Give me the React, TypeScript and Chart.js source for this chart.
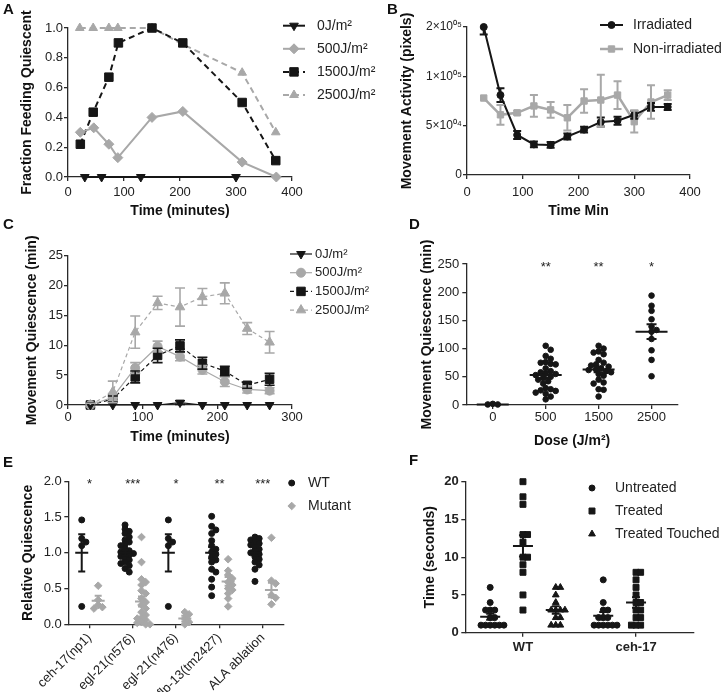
import React, { useEffect, useRef } from 'react';
import { Chart, registerables, LinearScale } from 'chart.js';
import { drawPoint } from 'chart.js/helpers';

Chart.register(...registerables);

const FONT = '"Liberation Sans", Arial, Helvetica, sans-serif';
const INK = '#161616';
const GRAY = '#a8a8a8';
const AXIS = '#2a2a2a';
const TXT = '#222222';

// ---------------- Panel A ----------------
const A_LABELS = ['0J/m²', '500J/m²', '1500J/m²', '2500J/m²'];
const A_T0 = [30, 60, 130, 300];
const A_Y0 = [0, 0, 0, 0];
const A_T500 = [22, 46, 73, 89, 150, 205, 311, 372];
const A_Y500 = [0.30, 0.33, 0.22, 0.13, 0.40, 0.44, 0.10, 0.0];
const A_T1500 = [22, 45, 73, 90, 150, 205, 311, 371];
const A_Y1500 = [0.22, 0.435, 0.67, 0.90, 1.0, 0.90, 0.50, 0.11];
const A_T2500 = [21, 45, 73, 89, 150, 205, 311, 371];
const A_Y2500 = [1.0, 1.0, 1.0, 1.0, 1.0, 0.89, 0.70, 0.30];

// ---------------- Panel B ----------------
const B_LABELS = ['Irradiated', 'Non-irradiated'];
const B_TIME = [30, 60, 90, 120, 150, 180, 210, 240, 270, 300, 330, 360];
const B_IRR = [200000, 81000, 40600, 31000, 30500, 39000, 46000, 53700, 55000, 61000, 69000, 69000];
const B_IRR_ERR = [15000, 7000, 4000, 3000, 3000, 3000, 3000, 4500, 4000, 4000, 4000, 3000];
const B_NON = [78000, 61000, 63000, 70000, 66000, 58000, 75000, 76000, 81000, 54000, 74000, 81000];
const B_NON_ERR = [0, 10000, 2000, 11000, 8000, 13000, 12000, 27000, 14000, 11000, 17000, 5000];
const B_TICKS = [0, 50000, 100000, 200000];

// ---------------- Panel C ----------------
const C_LABELS = ['0J/m²', '500J/m²', '1500J/m²', '2500J/m²'];
const C_TIME = [30, 60, 90, 120, 150, 180, 210, 240, 270];
const C_0 = [0, 0, 0, 0, 0.4, 0, 0, 0, 0];
const C_0_ERR = [0, 0, 0, 0, 0.3, 0, 0, 0, 0];
const C_500 = [0, 1.3, 6.2, 9.8, 8.1, 5.9, 3.9, 2.6, 2.4];
const C_500_ERR = [0, 0.6, 0.9, 0.9, 0.7, 0.7, 0.8, 0.6, 0.5];
const C_1500 = [0, 1.0, 4.7, 8.3, 9.9, 7.0, 5.7, 3.3, 4.3];
const C_1500_ERR = [0, 0.5, 1.0, 1.2, 1.0, 1.0, 0.8, 0.5, 1.0];
const C_2500 = [0, 2.2, 12.2, 17.1, 16.4, 18.1, 18.7, 12.8, 10.5];
const C_2500_ERR = [0.3, 1.8, 2.7, 1.1, 3.2, 1.4, 1.75, 1.0, 1.8];

// ---------------- Panel D ----------------
const D_DOSES = ['0', '500', '1500', '2500'];
const D_VALUES = [
  [2, 1, 1],
  [105, 98, 87, 82, 76, 75, 73, 72, 65, 60, 58, 56, 55, 53, 50, 48, 45, 42, 38, 30, 28, 26, 25, 22, 20, 15, 10],
  [105, 100, 95, 93, 90, 80, 75, 72, 70, 68, 65, 63, 62, 60, 58, 55, 52, 45, 40, 38, 28, 27, 15],
  [194, 176, 167, 152, 139, 133, 130, 117, 97, 80, 51],
];
const D_MEAN = [1, 53, 63, 130];
const D_SEM = [0.5, 5, 5, 13];
const D_STARS = ['', '**', '**', '*'];

// ---------------- Panel E ----------------
const E_GROUPS = ['ceh-17(np1)', 'egl-21(n576)', 'egl-21(n476)', 'flp-13(tm2427)', 'ALA ablation'];
const E_SERIES = ['WT', 'Mutant'];
const E_WT = [
  [1.46, 1.2, 1.15, 1.1, 0.25],
  [1.39, 1.33, 1.3, 1.27, 1.22, 1.18, 1.15, 1.12, 1.1, 1.06, 1.03, 1.01, 1.0, 0.99, 0.97, 0.95, 0.93, 0.9, 0.87, 0.85, 0.82, 0.78, 0.73],
  [1.46, 1.2, 1.15, 1.1, 0.25],
  [1.51, 1.37, 1.32, 1.27, 1.17, 1.1, 1.05, 1.01, 0.98, 0.94, 0.9, 0.87, 0.77, 0.73, 0.63, 0.52, 0.4],
  [1.22, 1.2, 1.18, 1.15, 1.13, 1.11, 1.08, 1.05, 1.02, 1.0, 0.98, 0.94, 0.91, 0.87, 0.83, 0.77, 0.6],
];
const E_MUT = [
  [0.54, 0.34, 0.27, 0.24, 0.22],
  [1.22, 0.87, 0.63, 0.59, 0.55, 0.47, 0.43, 0.36, 0.31, 0.27, 0.22, 0.17, 0.13, 0.09, 0.08, 0.06, 0.03, 0.02, 0, 0],
  [0.17, 0.14, 0.08, 0.03, 0],
  [0.91, 0.75, 0.69, 0.64, 0.59, 0.55, 0.5, 0.48, 0.43, 0.36, 0.25],
  [1.21, 0.61, 0.57, 0.41, 0.37, 0.28],
];
const E_WT_MEAN = [1, 1, 1, 1, 1];
const E_WT_SEM = [0.26, 0.04, 0.26, 0.08, 0.04];
const E_MUT_MEAN = [0.33, 0.32, 0.08, 0.6, 0.48];
const E_MUT_SEM = [0.07, 0.07, 0.04, 0.06, 0.1];
const E_STARS = ['*', '***', '*', '**', '***'];

// ---------------- Panel F ----------------
const F_GROUPS = ['WT', 'ceh-17'];
const F_SERIES = ['Untreated', 'Treated', 'Treated Touched'];
const F_UNTREATED = [
  [6, 4, 3, 3, 3, 2, 2, 1, 1, 1, 1, 1, 1],
  [7, 4, 3, 3, 2, 2, 2, 1, 1, 1, 1, 1, 1],
];
const F_TREATED = [
  [20, 18, 17, 13, 13, 12, 10, 10, 9, 8, 5, 3],
  [8, 8, 7, 6, 5, 4, 4, 3, 3, 2, 2, 1, 1, 1],
];
const F_TOUCHED = [
  [6, 6, 5, 4, 3, 3, 3, 3, 2, 2, 1, 1, 1],
  [],
];
const F_MEAN = [[2.1, 2.25], [11.5, 4.0], [3.0, 0]];
const F_SEM = [[0.4, 0.5], [1.4, 0.7], [0.5, 0]];

// ---------------- helpers ----------------
class SegmentedScale extends LinearScale {
  static id = 'segmented';
  static defaults = LinearScale.defaults;
  buildTicks() {
    return B_TICKS.map((v) => ({ value: v }));
  }
  segPos(v: number) {
    const b = B_TICKS;
    const n = b.length - 1;
    let i = 0;
    while (i < n - 1 && v > b[i + 1]) i++;
    return (i + (v - b[i]) / (b[i + 1] - b[i])) / n;
  }
  getPixelForValue(v: number) {
    return this.getPixelForDecimal(this.segPos(v));
  }
  getValueForPixel(p: number) {
    const n = B_TICKS.length - 1;
    const d = this.getDecimalForPixel(p) * n;
    const i = Math.max(0, Math.min(Math.floor(d), n - 1));
    return B_TICKS[i] + (d - i) * (B_TICKS[i + 1] - B_TICKS[i]);
  }
}
Chart.register(SegmentedScale);

const SUP: Record<string, string> = { '0': '⁰', '1': '¹', '2': '²', '3': '³', '4': '⁴', '5': '⁵', '6': '⁶', '7': '⁷', '8': '⁸', '9': '⁹' };
function sci(v: number) {
  if (v === 0) return '0';
  const e = Math.floor(Math.log10(v) + 1e-9);
  const m = Math.round((v / Math.pow(10, e)) * 100) / 100;
  return m + '×10' + String(e).padStart(2, '0').split('').map((c) => SUP[c]).join('');
}

function swarmOffsets(values: number[], pxV: number, pxX: number, gap: number) {
  const idx = values.map((_, i) => i).sort((a, b) => values[b] - values[a]);
  const placed: { x: number; y: number }[] = [];
  const out = new Array(values.length).fill(0);
  for (const i of idx) {
    const y = values[i] * pxV;
    let chosen = 0;
    for (let n = 0; n < 80; n++) {
      const k = Math.ceil(n / 2) * (n % 2 === 1 ? 1 : -1);
      const x = k * gap * 0.5;
      if (placed.every((p) => Math.hypot(p.x - x, p.y - y) >= gap)) {
        chosen = x;
        break;
      }
    }
    placed.push({ x: chosen, y });
    out[i] = chosen / pxX;
  }
  return out;
}

function groupPoints(groups: number[][], offset: number, pxV: number, pxX: number, gap: number) {
  const pts: { x: number; y: number }[] = [];
  groups.forEach((vals, g) => {
    const jit = swarmOffsets(vals, pxV, pxX, gap);
    vals.forEach((v, i) => pts.push({ x: g + offset + jit[i], y: v }));
  });
  return pts;
}

function xy(xs: number[], ys: number[]) {
  return xs.map((x, i) => ({ x, y: ys[i] }));
}

function scaleOpts(o: any) {
  const s: any = {
    type: o.type || 'linear',
    min: o.min,
    max: o.max,
    grid: { display: true, drawOnChartArea: false, drawTicks: true, tickLength: 4, tickWidth: 1.3, color: AXIS, tickColor: AXIS, lineWidth: 1.3 },
    border: { display: true, color: AXIS, width: 1.3 },
    ticks: {
      color: TXT,
      font: { family: FONT, size: o.fontSize || 13, weight: o.bold ? 'bold' : 'normal' },
      padding: o.tickPad ?? 3,
      autoSkip: false,
      maxRotation: o.rotate ?? 0,
      minRotation: o.rotate ?? 0,
      includeBounds: false,
    },
    afterFit: (sc: any) => {
      if (o.horizontal) sc.height = o.fit;
      else sc.width = o.fit;
    },
  };
  if (o.step) s.ticks.stepSize = o.step;
  if (o.fmt) s.ticks.callback = (v: number) => o.fmt(v);
  if (o.ticksList) s.afterBuildTicks = (sc: any) => { sc.ticks = o.ticksList.map((v: number) => ({ value: v })); };
  if (o.title) {
    s.title = {
      display: true,
      text: o.title,
      color: '#111',
      font: { family: FONT, size: 14, weight: 'bold' },
      padding: o.horizontal ? { top: 0, bottom: o.titlePad } : { top: o.titlePad, bottom: 0 },
    };
  }
  return s;
}

function baseOptions(pad: any, x: any, y: any) {
  return {
    responsive: false,
    animation: false,
    devicePixelRatio: 1,
    events: [],
    layout: { padding: pad },
    plugins: { legend: { display: false }, tooltip: { enabled: false } },
    scales: { x, y },
  };
}

function lineDs(label: string, data: any[], o: any) {
  return {
    label,
    data,
    errors: o.errors,
    borderColor: o.color,
    backgroundColor: o.color,
    borderWidth: o.width ?? 2,
    borderDash: o.dash || [],
    pointStyle: o.style,
    pointRotation: o.rot || 0,
    pointRadius: o.r,
    pointBackgroundColor: o.color,
    pointBorderColor: o.color,
    pointBorderWidth: 1,
    tension: 0,
    clip: false,
    showLine: o.showLine ?? true,
  };
}

function errorBarPlugin(cap: number, lw: number) {
  return {
    id: 'errbars',
    afterDatasetsDraw(chart: any) {
      const ctx = chart.ctx;
      chart.data.datasets.forEach((ds: any, i: number) => {
        if (!ds.errors) return;
        const meta = chart.getDatasetMeta(i);
        const ys = chart.scales[meta.yAxisID];
        ctx.save();
        ctx.strokeStyle = ds.borderColor;
        ctx.lineWidth = lw;
        ctx.setLineDash([]);
        meta.data.forEach((pt: any, j: number) => {
          const e = ds.errors[j];
          if (!e) return;
          const v = ds.data[j].y;
          const hi = Math.min(v + e, ys.max);
          const lo = Math.max(v - e, ys.min);
          const y1 = ys.getPixelForValue(hi);
          const y2 = ys.getPixelForValue(lo);
          const x = pt.x;
          ctx.beginPath();
          ctx.moveTo(x, y1);
          ctx.lineTo(x, y2);
          if (hi === v + e) { ctx.moveTo(x - cap, y1); ctx.lineTo(x + cap, y1); }
          if (lo === v - e) { ctx.moveTo(x - cap, y2); ctx.lineTo(x + cap, y2); }
          ctx.stroke();
        });
        ctx.restore();
      });
    },
  };
}

function meanSemPlugin(items: { x: number; mean: number; sem: number; color: string }[], half: number, cap: number, lw: number) {
  return {
    id: 'meansem',
    afterDatasetsDraw(chart: any) {
      const xs = chart.scales.x;
      const ys = chart.scales.y;
      const ctx = chart.ctx;
      ctx.save();
      ctx.lineWidth = lw;
      for (const g of items) {
        const x = xs.getPixelForValue(g.x);
        const ym = ys.getPixelForValue(g.mean);
        const y1 = ys.getPixelForValue(g.mean + g.sem);
        const y2 = ys.getPixelForValue(g.mean - g.sem);
        ctx.strokeStyle = g.color;
        ctx.beginPath();
        ctx.moveTo(x - half, ym); ctx.lineTo(x + half, ym);
        ctx.moveTo(x, y1); ctx.lineTo(x, y2);
        ctx.moveTo(x - cap, y1); ctx.lineTo(x + cap, y1);
        ctx.moveTo(x - cap, y2); ctx.lineTo(x + cap, y2);
        ctx.stroke();
      }
      ctx.restore();
    },
  };
}

function starsPlugin(items: { x: number; y: number; text: string }[], size: number) {
  return {
    id: 'stars',
    afterDraw(chart: any) {
      const ctx = chart.ctx;
      ctx.save();
      ctx.fillStyle = TXT;
      ctx.font = `normal ${size}px ${FONT}`;
      ctx.textAlign = 'center';
      ctx.textBaseline = 'middle';
      for (const it of items) {
        if (!it.text) continue;
        ctx.fillText(it.text, chart.scales.x.getPixelForValue(it.x), chart.scales.y.getPixelForValue(it.y) + 3);
      }
      ctx.restore();
    },
  };
}

function legendPlugin(o: { x0: number; x1: number; mx: number; tx: number; y0: number; dy: number; size: number; lines: boolean }) {
  return {
    id: 'glegend',
    afterDraw(chart: any) {
      const ctx = chart.ctx;
      chart.data.datasets.forEach((ds: any, i: number) => {
        const y = o.y0 + i * o.dy;
        ctx.save();
        if (o.lines) {
          ctx.strokeStyle = ds.borderColor;
          ctx.lineWidth = ds.borderWidth;
          ctx.setLineDash(ds.borderDash || []);
          ctx.beginPath();
          ctx.moveTo(o.x0, y);
          ctx.lineTo(o.x1, y);
          ctx.stroke();
        }
        ctx.setLineDash([]);
        ctx.fillStyle = ds.pointBackgroundColor;
        ctx.strokeStyle = ds.pointBorderColor;
        ctx.lineWidth = 1;
        drawPoint(ctx, { pointStyle: ds.pointStyle, rotation: ds.pointRotation || 0, radius: ds.pointRadius, borderWidth: 1 }, o.mx, y);
        ctx.fillStyle = TXT;
        ctx.font = `normal ${o.size}px ${FONT}`;
        ctx.textBaseline = 'middle';
        ctx.textAlign = 'left';
        ctx.fillText(ds.label, o.tx, y);
        ctx.restore();
      });
    },
  };
}

// ---------------- chart configs ----------------
function configA() {
  return {
    type: 'line',
    data: {
      datasets: [
        lineDs(A_LABELS[0], xy(A_T0, A_Y0), { color: INK, style: 'triangle', rot: 180, r: 5 }),
        lineDs(A_LABELS[1], xy(A_T500, A_Y500), { color: GRAY, style: 'rectRot', r: 5 }),
        lineDs(A_LABELS[2], xy(A_T1500, A_Y1500), { color: INK, style: 'rect', r: 6, dash: [6, 4] }),
        lineDs(A_LABELS[3], xy(A_T2500, A_Y2500), { color: GRAY, style: 'triangle', r: 5, dash: [6, 4] }),
      ],
    },
    options: baseOptions(
      { left: 0, top: 28, right: 98, bottom: 0 },
      scaleOpts({ horizontal: true, min: 0, max: 400, step: 100, fit: 48, tickPad: 4, title: 'Time (minutes)', titlePad: 5.6 }),
      scaleOpts({ min: 0, max: 1, step: 0.2, fit: 68, tickPad: 1, fmt: (v: number) => v.toFixed(1), title: 'Fraction Feeding Quiescent', titlePad: 18.6 }),
    ),
    plugins: [legendPlugin({ x0: 283, x1: 305, mx: 294, tx: 317, y0: 25.7, dy: 23.1, size: 14, lines: true })],
  };
}

function configB() {
  return {
    type: 'line',
    data: {
      datasets: [
        lineDs(B_LABELS[0], xy(B_TIME, B_IRR), { color: INK, style: 'circle', r: 3.5, errors: B_IRR_ERR }),
        lineDs(B_LABELS[1], xy(B_TIME, B_NON), { color: GRAY, style: 'rect', r: 4.5, width: 2.5, errors: B_NON_ERR }),
      ],
    },
    options: baseOptions(
      { left: 0, top: 27, right: 35, bottom: 0 },
      scaleOpts({ horizontal: true, min: 0, max: 400, step: 100, fit: 50, tickPad: 6, title: 'Time Min', titlePad: 5.6 }),
      scaleOpts({ type: 'segmented', min: 0, max: 200000, fit: 105, tickPad: 1, fontSize: 12, fmt: sci, title: 'Movement Activity (pixels)', titlePad: 36.6 }),
    ),
    plugins: [errorBarPlugin(4, 2), legendPlugin({ x0: 238, x1: 261, mx: 249.5, tx: 271, y0: 25, dy: 24, size: 14, lines: true })],
  };
}

function configC() {
  return {
    type: 'line',
    data: {
      datasets: [
        lineDs(C_LABELS[0], xy(C_TIME, C_0), { color: INK, style: 'triangle', rot: 180, r: 5, width: 1.2, errors: C_0_ERR }),
        lineDs(C_LABELS[1], xy(C_TIME, C_500), { color: GRAY, style: 'circle', r: 4.5, width: 1.2, errors: C_500_ERR }),
        lineDs(C_LABELS[2], xy(C_TIME, C_1500), { color: INK, style: 'rect', r: 6, width: 1.2, dash: [4, 3], errors: C_1500_ERR }),
        lineDs(C_LABELS[3], xy(C_TIME, C_2500), { color: GRAY, style: 'triangle', r: 5.5, width: 1.2, dash: [4, 3], errors: C_2500_ERR }),
      ],
    },
    options: baseOptions(
      { left: 0, top: 33.7, right: 98, bottom: 0 },
      scaleOpts({ horizontal: true, min: 0, max: 300, step: 100, fit: 47, tickPad: 1, title: 'Time (minutes)', titlePad: 6.6 }),
      scaleOpts({ min: 0, max: 25, step: 5, fit: 68, tickPad: 1, title: 'Movement Quiescence (min)', titlePad: 23.6 }),
    ),
    plugins: [errorBarPlugin(5, 1.6), legendPlugin({ x0: 290, x1: 312, mx: 301, tx: 315, y0: 32, dy: 18.7, size: 13, lines: true })],
  };
}

function configD() {
  const pts = groupPoints(D_VALUES, 0, 0.564, 53, 5);
  return {
    type: 'scatter',
    data: {
      datasets: [
        { label: 'dose', data: pts, pointStyle: 'circle', pointRadius: 2.8, pointBackgroundColor: INK, pointBorderColor: INK, borderWidth: 1, clip: false },
      ],
    },
    options: baseOptions(
      { left: 0, top: 42, right: 47, bottom: 0 },
      scaleOpts({ horizontal: true, min: -0.5, max: 3.5, fit: 47, tickPad: 1, ticksList: [0, 1, 2, 3], fmt: (v: number) => D_DOSES[v], title: 'Dose (J/m²)', titlePad: 2.6 }),
      scaleOpts({ min: 0, max: 250, step: 50, fit: 104.3, tickPad: 3, title: 'Movement Quiescence (min)', titlePad: 56.6 }),
    ),
    plugins: [
      meanSemPlugin(D_MEAN.map((m, i) => ({ x: i, mean: m, sem: D_SEM[i], color: INK })), 16, 5, 2),
      starsPlugin(D_STARS.map((t, i) => ({ x: i, y: 250, text: t })), 13),
    ],
  };
}

function configE() {
  const WT_OFF = -0.18;
  const MUT_OFF = 0.2;
  return {
    type: 'scatter',
    data: {
      datasets: [
        { label: E_SERIES[0], data: groupPoints(E_WT, WT_OFF, 71.5, 43.3, 4.2), pointStyle: 'circle', pointRadius: 3, pointBackgroundColor: INK, pointBorderColor: INK, borderColor: INK, borderWidth: 1, clip: false },
        { label: E_SERIES[1], data: groupPoints(E_MUT, MUT_OFF, 71.5, 43.3, 4.2), pointStyle: 'rectRot', pointRadius: 3.8, pointBackgroundColor: GRAY, pointBorderColor: GRAY, borderColor: GRAY, borderWidth: 1, clip: false },
      ],
    },
    options: baseOptions(
      { left: 0, top: 29.3, right: 78, bottom: 0 },
      scaleOpts({ horizontal: true, min: -0.49, max: 4.49, fit: 67.7, tickPad: 2, rotate: 45, ticksList: [0, 1, 2, 3, 4], fmt: (v: number) => E_GROUPS[v] }),
      scaleOpts({ min: 0, max: 2, step: 0.5, fit: 68.3, tickPad: 2.6, fmt: (v: number) => v.toFixed(1), title: 'Relative Quiescence', titlePad: 19.6 }),
    ),
    plugins: [
      meanSemPlugin([
        ...E_WT_MEAN.map((m, i) => ({ x: i + WT_OFF, mean: m, sem: E_WT_SEM[i], color: INK })),
        ...E_MUT_MEAN.map((m, i) => ({ x: i + MUT_OFF, mean: m, sem: E_MUT_SEM[i], color: GRAY })),
      ], 6.5, 3.5, 2),
      starsPlugin(E_STARS.map((t, i) => ({ x: i, y: 2, text: t })), 13),
      legendPlugin({ x0: 0, x1: 0, mx: 291.7, tx: 308, y0: 31, dy: 23, size: 14, lines: false }),
    ],
  };
}

function configF() {
  const OFF = [-0.29, 0, 0.29];
  const sets = [F_UNTREATED, F_TREATED, F_TOUCHED];
  const styles = [
    { pointStyle: 'circle', pointRadius: 3 },
    { pointStyle: 'rect', pointRadius: 4.2 },
    { pointStyle: 'triangle', pointRadius: 3.9 },
  ];
  const items: any[] = [];
  F_MEAN.forEach((ms, s) => ms.forEach((m, g) => {
    if (sets[s][g].length) items.push({ x: g + OFF[s], mean: m, sem: F_SEM[s][g], color: INK });
  }));
  return {
    type: 'scatter',
    data: {
      datasets: sets.map((grp, s) => ({
        label: F_SERIES[s],
        data: groupPoints(grp, OFF[s], 7.55, 113.3, 4.6),
        ...styles[s],
        pointBackgroundColor: INK,
        pointBorderColor: INK,
        borderColor: INK,
        borderWidth: 1,
        clip: false,
      })),
    },
    options: baseOptions(
      { left: 0, top: 29.7, right: 31.3, bottom: 0 },
      scaleOpts({ horizontal: true, min: -0.51, max: 1.51, fit: 59.3, tickPad: 3, bold: true, ticksList: [0, 1], fmt: (v: number) => F_GROUPS[v] }),
      scaleOpts({ min: 0, max: 20, step: 5, fit: 103.3, tickPad: 2.6, bold: true, title: 'Time (seconds)', titlePad: 60.1 }),
    ),
    plugins: [
      meanSemPlugin(items, 10, 4, 2),
      legendPlugin({ x0: 0, x1: 0, mx: 230, tx: 253, y0: 36, dy: 23, size: 14, lines: false }),
    ],
  };
}

function Panel({ left, top, width, height, make }: { left: number; top: number; width: number; height: number; make: () => any }) {
  const ref = useRef<HTMLCanvasElement>(null);
  useEffect(() => {
    const chart = new Chart(ref.current as HTMLCanvasElement, make());
    return () => chart.destroy();
  }, []);
  return <canvas ref={ref} width={width} height={height} style={{ position: 'absolute', left, top, width, height }} />;
}

function Letter({ text, left, top }: { text: string; left: number; top: number }) {
  return (
    <div style={{ position: 'absolute', left, top, fontFamily: FONT, fontWeight: 'bold', fontSize: 15, lineHeight: '15px', color: '#111' }}>{text}</div>
  );
}

export default function App() {
  return (
    <div style={{ position: 'absolute', left: 0, top: 0, width: 725, height: 692, background: '#fff', overflow: 'hidden' }}>
      <Panel left={0} top={0} width={390} height={225} make={configA} />
      <Panel left={362} top={0} width={363} height={225} make={configB} />
      <Panel left={0} top={222} width={390} height={230} make={configC} />
      <Panel left={362} top={222} width={363} height={230} make={configD} />
      <Panel left={0} top={452} width={362} height={240} make={configE} />
      <Panel left={362} top={452} width={363} height={240} make={configF} />
      <Letter text="A" left={3} top={1} />
      <Letter text="B" left={387} top={1} />
      <Letter text="C" left={3} top={216} />
      <Letter text="D" left={409} top={216} />
      <Letter text="E" left={3} top={454} />
      <Letter text="F" left={409} top={452} />
    </div>
  );
}
